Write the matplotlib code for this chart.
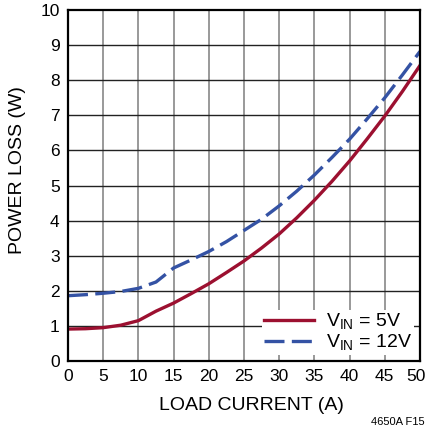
import matplotlib
matplotlib.use("Agg")
import matplotlib.pyplot as plt
from matplotlib.transforms import ScaledTranslation

plt.rcParams['font.family'] = ['Liberation Sans Narrow', 'Liberation Sans', 'DejaVu Sans']

# load current (A) and power loss (W)
x_5v = [0, 2.5, 5, 7.5, 10, 12.5, 15, 17.5, 20, 22.5, 25, 27.5, 30, 32.5, 35, 37.5, 40, 42.5, 45, 47.5, 50]
loss_5v = [0.91, 0.92, 0.95, 1.02, 1.15, 1.42, 1.65, 1.92, 2.2, 2.52, 2.85, 3.22, 3.62, 4.08, 4.58, 5.12, 5.7, 6.33, 6.98, 7.68, 8.42]
x_12v = [0, 2.5, 5, 7.5, 10, 12.5, 15, 17.5, 20, 22.5, 25, 27.5, 30, 32.5, 35, 37.5, 40, 42.5, 45, 47.5, 50]
loss_12v = [1.86, 1.89, 1.93, 1.98, 2.07, 2.25, 2.65, 2.88, 3.12, 3.4, 3.72, 4.04, 4.42, 4.84, 5.3, 5.8, 6.32, 6.9, 7.5, 8.15, 8.82]

red = '#9c1030'
blue = '#3452a4'

fig = plt.figure(figsize=(4.28, 4.34), dpi=100)
ax = fig.add_axes([68/428, 1-361/434, 352/428, 351/434])

ax.plot(x_5v, loss_5v, color=red, lw=2.4, label='V$_{\\mathregular{IN}}$ = 5V', zorder=3)
ax.plot(x_12v, loss_12v, color=blue, lw=2.4, dashes=(6, 2.2), label='V$_{\\mathregular{IN}}$ = 12V', zorder=3)

ax.set_xlim(0, 50)
ax.set_ylim(0, 10)
ax.set_xticks(range(0, 51, 5))
ax.set_yticks(range(0, 11, 1))
for xv in range(5, 50, 5):
    ax.axvline(xv, color='#888888', lw=1.2, zorder=1)
for yv in range(1, 10):
    ax.axhline(yv, color='#222222', lw=1.0, zorder=1)
for s in ax.spines.values():
    s.set_linewidth(1.6)
    s.set_zorder(5)
ax.tick_params(length=0, labelsize=12.5, pad=6)

# keep the last x label inside the figure
last = ax.get_xticklabels()[-1]
last.set_transform(last.get_transform() + ScaledTranslation(-4/100, 0, fig.dpi_scale_trans))

ax.set_xlabel('LOAD CURRENT (A)', fontsize=14)
ax.set_ylabel('POWER LOSS (W)', fontsize=14)
ax.xaxis.set_label_coords(0.52, -0.103)
ax.yaxis.set_label_coords(-0.118, 0.545)

leg = ax.legend(loc='lower right', fontsize=14, frameon=True, framealpha=1,
                edgecolor='none', fancybox=False, handlelength=2.6,
                borderaxespad=0.3, borderpad=0.1, handletextpad=0.6, labelspacing=0.05)
leg.set_zorder(4)

fig.text(0.993, 0.016, '4650A F15', ha='right', va='bottom', fontsize=8)

fig.savefig('out.png', dpi=100)
